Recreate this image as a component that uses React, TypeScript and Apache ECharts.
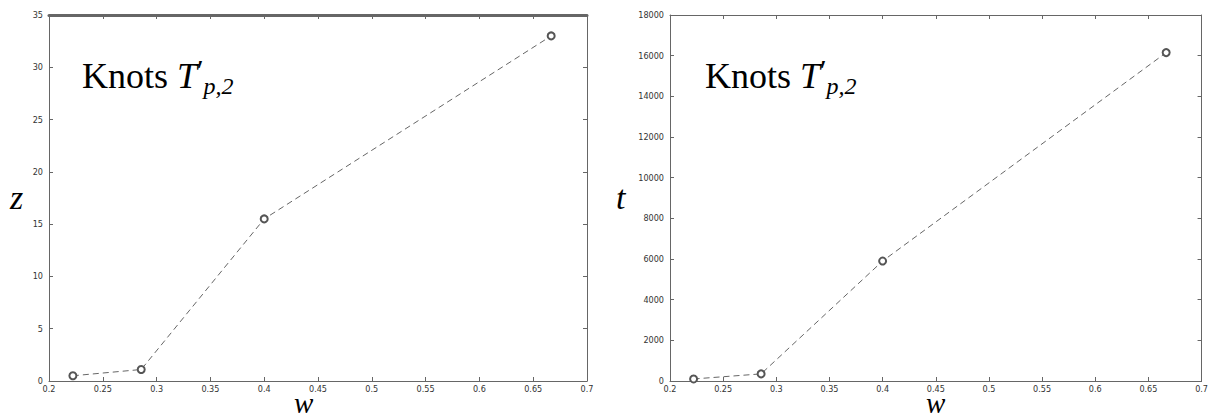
import React, { useEffect, useRef } from "react";
import * as echarts from "echarts";

const wValues = [0.2222, 0.2857, 0.4, 0.6667];
const zValues = [0.5, 1.1, 15.5, 33];
const tValues = [100, 350, 5900, 16150];
const xTickLabels = ["0.2", "0.25", "0.3", "0.35", "0.4", "0.45", "0.5", "0.55", "0.6", "0.65", "0.7"];

const AX = "#666";
const LBL = "#333";
const SERIF = "Liberation Serif, Times New Roman, serif";

function xAxes(gi: number) {
  const base = {
    type: "value" as const,
    gridIndex: gi,
    min: 0.2,
    max: 0.7,
    interval: 0.05,
    splitLine: { show: false },
    axisLine: { show: true, onZero: false, lineStyle: { color: AX, width: 1 } },
    axisTick: { show: true, inside: true, length: 4, lineStyle: { color: AX } },
  };
  return [
    {
      ...base,
      position: "bottom",
      axisLabel: {
        show: true,
        color: LBL,
        fontSize: 9,
        fontFamily: "DejaVu Sans Condensed, DejaVu Sans",
        margin: 3,
        formatter: (v: number) => {
          const i = Math.round((v - 0.2) / 0.05);
          return xTickLabels[i] ?? "";
        },
      },
    },
    {
      ...base,
      position: "top",
      axisLine: { show: true, onZero: false, lineStyle: { color: AX, width: gi === 0 ? 3 : 1 } },
      axisLabel: { show: false },
    },
  ];
}

function yAxes(gi: number, max: number, interval: number) {
  const base = {
    type: "value" as const,
    gridIndex: gi,
    min: 0,
    max,
    interval,
    splitLine: { show: false },
    axisLine: { show: true, onZero: false, lineStyle: { color: AX, width: 1 } },
    axisTick: { show: true, inside: true, length: 4, lineStyle: { color: AX } },
  };
  return [
    {
      ...base,
      position: "left",
      axisLabel: {
        show: true,
        color: LBL,
        fontSize: 9,
        fontFamily: "DejaVu Sans Condensed, DejaVu Sans",
        margin: 6,
        formatter: (v: number) => String(v),
      },
    },
    { ...base, position: "right", axisLabel: { show: false } },
  ];
}

const seriesStyle = {
  type: "line" as const,
  symbol: "emptyCircle",
  symbolSize: 7,
  lineStyle: { color: "#666", width: 1, type: [6, 4] as any },
  itemStyle: { color: "#555", borderColor: "#555", borderWidth: 1 },
};

function knots(x: number, y: number) {
  return {
    type: "text",
    left: x,
    top: y,
    style: {
      text: "{k|Knots }{t|T}{p|′}{s|p,2}",
      fill: "#000",
      rich: {
        k: { font: `36px ${SERIF}`, lineHeight: 44, verticalAlign: "middle" },
        t: { font: `italic 36px ${SERIF}`, lineHeight: 44, verticalAlign: "middle" },
        p: { font: `30px ${SERIF}`, lineHeight: 44, verticalAlign: "top" },
        s: { font: `italic 24px ${SERIF}`, lineHeight: 44, verticalAlign: "bottom" },
      },
    },
  };
}

function axisName(text: string, x: number, y: number, size: number) {
  return {
    type: "text",
    left: x,
    top: y,
    style: { text, font: `italic ${size}px ${SERIF}`, fill: "#000" },
  };
}

export default function App() {
  const ref = useRef<HTMLDivElement>(null);
  useEffect(() => {
    if (!ref.current) return;
    const chart = echarts.init(ref.current, undefined, { renderer: "svg" });
    chart.setOption({
      animation: false,
      backgroundColor: "#fff",
      grid: [
        { left: 49, top: 15, width: 538, height: 366 },
        { left: 670, top: 15, width: 535, height: 366 },
      ],
      xAxis: [...xAxes(0), ...xAxes(1)],
      yAxis: [...yAxes(0, 35, 5), ...yAxes(1, 18000, 2000)],
      series: [
        { ...seriesStyle, xAxisIndex: 0, yAxisIndex: 0, data: wValues.map((w, i) => [w, zValues[i]]) },
        { ...seriesStyle, xAxisIndex: 2, yAxisIndex: 2, data: wValues.map((w, i) => [w, tValues[i]]) },
      ],
      graphic: [
        knots(82, 54),
        knots(705, 54),
        axisName("z", 10, 180, 34),
        axisName("t", 616, 180, 34),
        axisName("w", 294, 388, 29),
        axisName("w", 926, 388, 29),
      ],
    });
    return () => chart.dispose();
  }, []);
  return <div ref={ref} style={{ position: "fixed", left: 0, top: 0, width: 1211, height: 417 }} />;
}
